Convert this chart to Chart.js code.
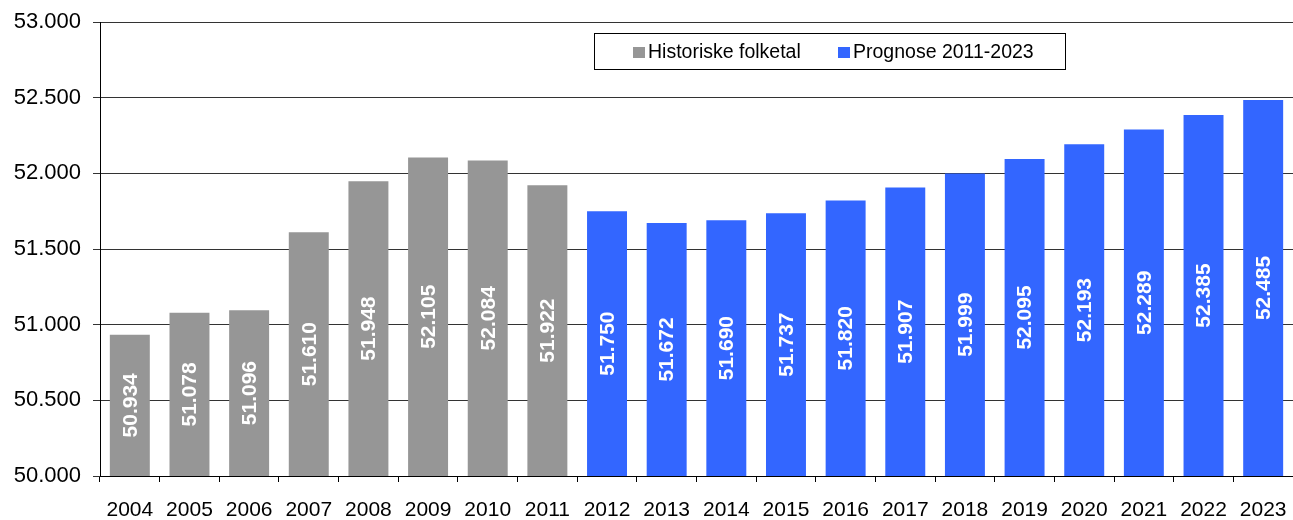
<!DOCTYPE html>
<html>
<head>
<meta charset="utf-8">
<script src="https://cdn.jsdelivr.net/npm/chart.js@4/dist/chart.umd.min.js"></script>
<style>
  html, body { margin: 0; padding: 0; background: #fff; }
  #wrap { width: 1293px; height: 520px; }
</style>
</head>
<body>
<div id="wrap"><canvas id="c" width="1293" height="520"></canvas></div>
<script>
const years = ['2004', '2005', '2006', '2007', '2008', '2009', '2010', '2011', '2012', '2013',
               '2014', '2015', '2016', '2017', '2018', '2019', '2020', '2021', '2022', '2023'];

const historisk = [50934, 51078, 51096, 51610, 51948, 52105, 52084, 51922,
                   null, null, null, null, null, null, null, null, null, null, null, null];

const prognose  = [null, null, null, null, null, null, null, null,
                   51750, 51672, 51690, 51737, 51820, 51907, 51999, 52095, 52193, 52289, 52385, 52485];

const seriesNames = ['Historiske folketal', 'Prognose 2011-2023'];
const GREY = '#969696';
const BLUE = '#3366ff';
const FONT = '"Liberation Sans", Arial, sans-serif';

function fmt(v) {
  return String(Math.round(v)).replace(/\B(?=(\d{3})+(?!\d))/g, '.');
}

// white rotated value labels centred in each bar
const barLabels = {
  id: 'barLabels',
  afterDraw(chart) {
    const ctx = chart.ctx;
    const xs = chart.scales.x, ys = chart.scales.y;
    ctx.save();
    ctx.fillStyle = '#ffffff';
    ctx.font = 'bold 21px ' + FONT;
    ctx.textAlign = 'center';
    ctx.textBaseline = 'middle';
    chart.data.datasets.forEach(ds => {
      ds.data.forEach((v, j) => {
        if (v == null) return;
        const x = xs.getPixelForValue(j);
        const cy = (ys.getPixelForValue(v) + ys.getPixelForValue(ys.min)) / 2;
        ctx.save();
        ctx.translate(x, cy);
        ctx.rotate(-Math.PI / 2);
        ctx.fillText(fmt(v), 0, 1);
        ctx.restore();
      });
    });
    ctx.restore();
  }
};

// boxed legend inside the plot
const boxLegend = {
  id: 'boxLegend',
  afterDraw(chart) {
    const ctx = chart.ctx;
    ctx.save();
    ctx.fillStyle = '#fff';
    ctx.fillRect(594.5, 33.5, 471, 36);
    ctx.strokeStyle = '#000';
    ctx.lineWidth = 1;
    ctx.strokeRect(594.5, 33.5, 471, 36);
    ctx.font = '19.5px ' + FONT;
    ctx.textBaseline = 'middle';
    ctx.textAlign = 'left';
    const items = [[633, GREY, seriesNames[0]], [838, BLUE, seriesNames[1]]];
    items.forEach(([x, col, txt]) => {
      ctx.fillStyle = col;
      ctx.fillRect(x, 47, 12, 11);
      ctx.fillStyle = '#000';
      ctx.fillText(txt, x + 15, 53);
    });
    ctx.restore();
  }
};

new Chart(document.getElementById('c'), {
  type: 'bar',
  data: {
    labels: years,
    datasets: [
      { label: seriesNames[0], data: historisk, backgroundColor: GREY },
      { label: seriesNames[1], data: prognose, backgroundColor: BLUE }
    ]
  },
  options: {
    responsive: false,
    animation: false,
    devicePixelRatio: 1,
    layout: { padding: { top: 22, right: 0, left: 0, bottom: 0 } },
    datasets: { bar: { grouped: false, categoryPercentage: 1, barPercentage: 0.67 } },
    plugins: { legend: { display: false }, tooltip: { enabled: false } },
    scales: {
      x: {
        afterFit(s) { s.height = 44; s.paddingLeft = 0; s.paddingRight = 0; },
        grid: { display: true, drawOnChartArea: false, drawTicks: true, tickLength: 6, color: '#000', offset: true },
        border: { color: '#000', width: 1 },
        ticks: { color: '#000', font: { size: 21, family: FONT }, padding: 16, maxRotation: 0, autoSkip: false }
      },
      y: {
        min: 50000, max: 53000,
        afterFit(s) { s.width = 100; s.paddingTop = 0; s.paddingBottom = 0; },
        grid: { color: '#333', lineWidth: 1, tickLength: 7, drawTicks: true },
        border: { color: '#000', width: 1 },
        ticks: {
          stepSize: 500, color: '#000', padding: 12,
          font: { size: 22, family: FONT },
          callback: v => fmt(v)
        }
      }
    }
  },
  plugins: [barLabels, boxLegend]
});
</script>
</body>
</html>
